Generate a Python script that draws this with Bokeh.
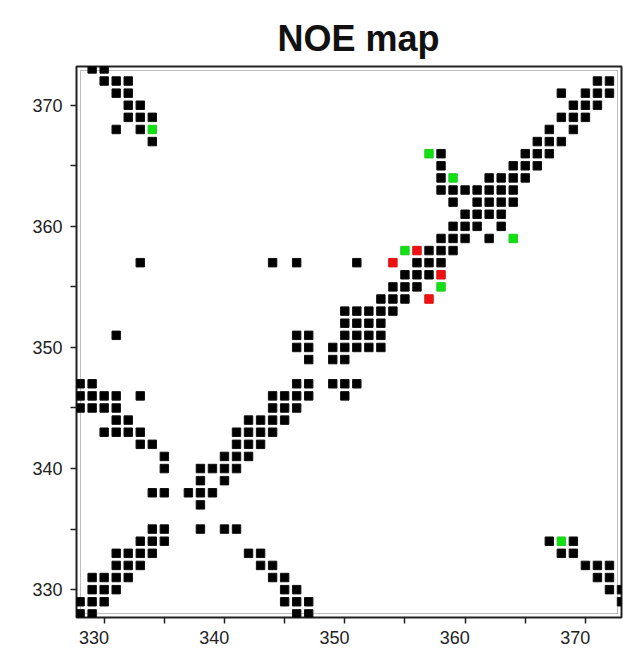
from bokeh.plotting import figure
from bokeh.models import FixedTicker, Range1d, BoxAnnotation, Node, LinearAxis
from bokeh.embed import file_html
from bokeh.resources import INLINE

# ---- data: NOE contacts (residue i on x, residue j on y) ----
black_row_y = [373, 372, 371, 370, 369, 368, 367, 366, 365, 364, 363, 362, 361, 360,
               359, 358, 357, 356, 355, 354, 353, 352, 351, 350, 349, 347, 346, 345,
               344, 343, 342, 341, 340, 339, 338, 337, 335, 334, 333, 332, 331, 330,
               329, 328]
black_row_x = [
    [329, 330],
    [330, 331, 332, 371, 372],
    [331, 332, 368, 370, 371, 372],
    [332, 333, 369, 370, 371],
    [332, 333, 334, 368, 369, 370],
    [331, 333, 367, 369],
    [334, 366, 367, 368],
    [358, 365, 366, 367],
    [358, 364, 365, 366],
    [358, 362, 363, 364, 365],
    [358, 359, 360, 361, 362, 363, 364],
    [359, 361, 362, 363, 364],
    [360, 361, 362, 363],
    [359, 360, 361, 363],
    [358, 359, 360, 362],
    [357, 358, 359],
    [333, 344, 346, 351, 356, 357, 358],
    [355, 356, 357],
    [354, 355, 356],
    [353, 354, 355],
    [350, 351, 352, 353, 354],
    [350, 351, 352, 353],
    [331, 346, 347, 350, 351, 352, 353],
    [346, 347, 349, 350, 351, 352, 353],
    [347, 349, 350],
    [328, 329, 346, 347, 349, 350, 351],
    [328, 329, 330, 331, 333, 344, 345, 346, 347, 350],
    [328, 329, 330, 331, 344, 345, 346],
    [331, 332, 342, 343, 344, 345],
    [330, 331, 332, 333, 341, 342, 343, 344],
    [333, 334, 341, 342, 343],
    [335, 340, 341, 342],
    [335, 338, 339, 340, 341],
    [338, 340],
    [334, 335, 337, 338, 339],
    [338],
    [334, 335, 338, 340, 341],
    [333, 334, 335, 367, 369],
    [331, 332, 333, 334, 342, 343, 368, 369],
    [331, 332, 333, 343, 344, 370, 371, 372],
    [329, 330, 331, 332, 344, 345, 371, 372],
    [329, 330, 331, 345, 346, 372, 373],
    [328, 329, 330, 345, 346, 347, 373],
    [328, 329, 346, 347],
]
green_x = [334, 357, 359, 364, 355, 358, 368]
green_y = [368, 366, 364, 359, 358, 355, 334]
red_x = [356, 354, 358, 357]
red_y = [358, 357, 356, 354]

major_ticks = [330, 340, 350, 360, 370]
minor_ticks = [335, 345, 355, 365]

black_x, black_y = [], []
for yy, xs in zip(black_row_y, black_row_x):
    for xx in xs:
        black_x.append(xx)
        black_y.append(yy)

FONT = "Liberation Sans"
X0, X1 = 327.7, 373.0
LABEL_SHIFT = 0.85  # the x tick labels sit a little left of their ticks in the original

p = figure(width=623, height=654, output_backend="svg", toolbar_location=None,
           x_range=Range1d(X0, X1), y_range=Range1d(327.7, 373.2),
           min_border_left=76, min_border_right=2, min_border_top=66, min_border_bottom=37,
           background_fill_color="white", border_fill_color="white")
p.extra_x_ranges = {"labels": Range1d(X0 + LABEL_SHIFT, X1 + LABEL_SHIFT)}
p.grid.visible = False

p.title.text = "NOE map"
p.title.text_font = FONT
p.title.text_font_size = "36px"
p.title.text_font_style = "bold"
p.title.text_color = "#111111"
p.title.align = "left"
p.title.offset = 201
p.title.standoff = 15

p.outline_line_color = "#222222"
p.outline_line_width = 2
p.outline_line_alpha = 1.0

inner = BoxAnnotation(left=Node(target="frame", symbol="left", offset=4),
                      right=Node(target="frame", symbol="right", offset=-4),
                      top=Node(target="frame", symbol="top", offset=4),
                      bottom=Node(target="frame", symbol="bottom", offset=-4),
                      fill_alpha=0, line_color="#222222", line_width=1)
p.add_layout(inner)

for ax in (p.xaxis[0], p.yaxis[0]):
    ax.ticker = FixedTicker(ticks=major_ticks, minor_ticks=minor_ticks)
    ax.axis_line_color = None
    ax.major_tick_in = 0
    ax.major_tick_out = 6
    ax.minor_tick_in = 0
    ax.minor_tick_out = 6
    ax.major_tick_line_color = "#222222"
    ax.minor_tick_line_color = "#222222"
    ax.major_tick_line_width = 1.5
    ax.minor_tick_line_width = 1.5
    ax.major_label_text_font = FONT
    ax.major_label_text_font_size = "18px"
    ax.major_label_text_color = "#222222"
p.yaxis.major_label_standoff = 8
# bottom axis: ticks only
p.xaxis[0].major_label_text_font_size = "1px"
p.xaxis[0].major_label_text_alpha = 0
p.xaxis[0].major_label_standoff = 0

# label axis, shifted slightly left as in the original
lab = LinearAxis(x_range_name="labels", ticker=FixedTicker(ticks=major_ticks))
lab.axis_line_color = None
lab.major_tick_out = 0
lab.major_tick_in = 0
lab.minor_tick_out = 0
lab.minor_tick_in = 0
lab.major_label_text_font = FONT
lab.major_label_text_font_size = "18px"
lab.major_label_text_color = "#222222"
lab.major_label_standoff = 7
p.add_layout(lab, "below")

sq = 0.7
p.rect(x=black_x, y=black_y, width=sq, height=sq, fill_color="black", line_color="#111111")
p.rect(x=green_x, y=green_y, width=sq, height=sq, fill_color="#11e011", line_color="#22cc22")
p.rect(x=red_x, y=red_y, width=sq, height=sq, fill_color="#ee1111", line_color="#dd1111")

open("out.html", "w").write(file_html(p, INLINE))
